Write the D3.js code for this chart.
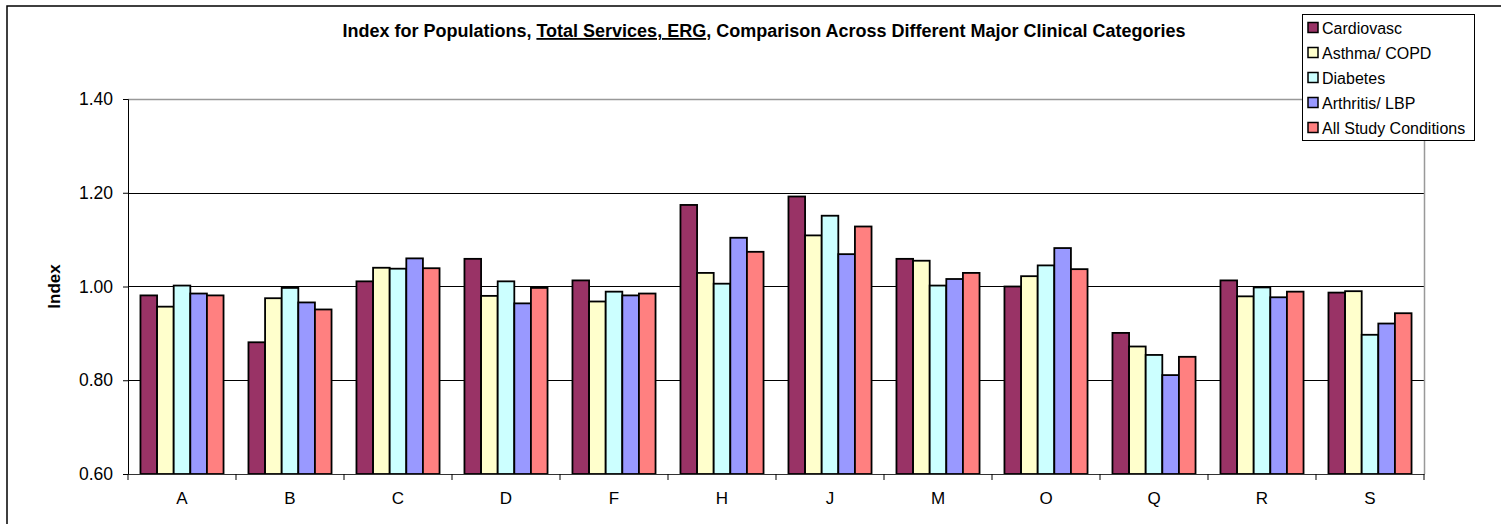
<!DOCTYPE html>
<html>
<head>
    <title>Index for Populations</title>
    <script src='https://d3js.org/d3.v7.min.js' charset='utf-8'></script>
    <style type="text/css">
        body { margin: 0; background: #fff; }
        svg { display: block; font-family: "Liberation Sans", Arial, sans-serif; }
    </style>
</head>
<body>
    <svg class='chart'></svg>

    <script type='text/javascript'>
    var categories = ['A', 'B', 'C', 'D', 'F', 'H', 'J', 'M', 'O', 'Q', 'R', 'S'];
    var seriesNames = ['Cardiovasc', 'Asthma/ COPD', 'Diabetes', 'Arthritis/ LBP', 'All Study Conditions'];
    var cardiovasc = [0.981, 0.881, 1.011, 1.059, 1.013, 1.174, 1.192, 1.059, 1.000, 0.901, 1.013, 0.987];
    var asthma     = [0.957, 0.975, 1.040, 0.980, 0.968, 1.029, 1.109, 1.055, 1.022, 0.872, 0.979, 0.990];
    var diabetes   = [1.002, 0.997, 1.038, 1.011, 0.989, 1.006, 1.151, 1.002, 1.045, 0.854, 0.998, 0.897];
    var arthritis  = [0.985, 0.966, 1.060, 0.964, 0.981, 1.104, 1.069, 1.016, 1.082, 0.811, 0.977, 0.921];
    var allStudy   = [0.981, 0.951, 1.039, 0.997, 0.985, 1.074, 1.128, 1.029, 1.037, 0.850, 0.989, 0.943];
    var yTicks = [0.60, 0.80, 1.00, 1.20, 1.40];
    var colors = ['#993366', '#FFFFCC', '#CCFFFF', '#9999FF', '#FF8080'];

    var width = 1501;
    var height = 524;
    var plotLeft = 128, plotRight = 1424, plotTop = 99, plotBottom = 474;

    var allSeries = [cardiovasc, asthma, diabetes, arthritis, allStudy];

    var svg = d3.select('.chart')
        .attr('width', width)
        .attr('height', height);

    // outer chart border (runs off the page on the right and bottom)
    svg.append('rect')
        .attr('x', 7).attr('y', 6)
        .attr('width', 1700).attr('height', 700)
        .attr('fill', 'none')
        .attr('stroke', '#000')
        .attr('stroke-width', 1.5);

    var x0 = d3.scaleBand().domain(categories).range([plotLeft, plotRight]);
    var x1 = d3.scaleBand().domain(d3.range(seriesNames.length))
        .range([0, x0.bandwidth()]).paddingInner(0).paddingOuter(0.75);
    var y = d3.scaleLinear().domain([0.6, 1.4]).range([plotBottom, plotTop]);

    // gridlines
    svg.append('g').selectAll('line')
        .data(yTicks.slice(1))
        .enter().append('line')
        .attr('x1', plotLeft).attr('x2', plotRight)
        .attr('y1', function (d) { return Math.round(y(d)) + 0.5; })
        .attr('y2', function (d) { return Math.round(y(d)) + 0.5; })
        .attr('stroke', function (d) { return d === 1.4 ? '#999' : '#000'; })
        .attr('stroke-width', function (d) { return d === 1.4 ? 1.5 : 1; });

    // right border of plot area
    svg.append('line')
        .attr('x1', plotRight + 0.5).attr('x2', plotRight + 0.5)
        .attr('y1', plotTop).attr('y2', plotBottom)
        .attr('stroke', '#999').attr('stroke-width', 1.5);

    // bars
    var groups = svg.append('g').selectAll('g')
        .data(categories)
        .enter().append('g')
        .attr('transform', function (d) { return 'translate(' + x0(d) + ',0)'; });

    groups.selectAll('rect')
        .data(function (d, i) { return allSeries.map(function (s, k) { return { k: k, v: s[i] }; }); })
        .enter().append('rect')
        .attr('x', function (d) { return x1(d.k); })
        .attr('width', x1.bandwidth())
        .attr('y', function (d) { return y(d.v); })
        .attr('height', function (d) { return plotBottom - y(d.v); })
        .attr('fill', function (d) { return colors[d.k]; })
        .attr('stroke', '#000')
        .attr('stroke-width', 1.8);

    // y axis
    var yAxis = svg.append('g')
        .attr('transform', 'translate(' + plotLeft + ',0)')
        .call(d3.axisLeft(y).tickValues(yTicks).tickFormat(d3.format('.2f')).tickSize(5).tickPadding(10));
    yAxis.select('.domain').attr('stroke', '#000');
    yAxis.selectAll('text').attr('font-size', 17.5).attr('font-family', '"Liberation Sans", Arial, sans-serif').attr('fill', '#000');

    // x axis
    var xAxis = svg.append('g')
        .attr('transform', 'translate(0,' + plotBottom + ')')
        .call(d3.axisBottom(x0).tickSize(0).tickPadding(18));
    xAxis.select('.domain').attr('stroke', '#333');
    xAxis.selectAll('text').attr('font-size', 17).attr('font-family', '"Liberation Sans", Arial, sans-serif').attr('fill', '#000');
    xAxis.selectAll('.sep')
        .data(categories.concat(['end']))
        .enter().append('line')
        .attr('class', 'sep')
        .attr('x1', function (d, i) { return plotLeft + i * x0.step(); })
        .attr('x2', function (d, i) { return plotLeft + i * x0.step(); })
        .attr('y1', 0).attr('y2', 6)
        .attr('stroke', '#000');

    // y label
    svg.append('text')
        .attr('transform', 'translate(60,' + y(1.0) + ') rotate(-90)')
        .attr('text-anchor', 'middle')
        .attr('font-size', 17)
        .attr('font-weight', 'bold')
        .text('Index');

    // title
    var title = svg.append('text')
        .attr('x', 764).attr('y', 37)
        .attr('text-anchor', 'middle')
        .attr('font-size', 18)
        .attr('font-weight', 'bold');
    title.append('tspan').text('Index for Populations, ');
    title.append('tspan').attr('text-decoration', 'underline').text('Total Services, ERG');
    title.append('tspan').text(', Comparison Across Different Major Clinical Categories');

    // legend
    var legend = svg.append('g');
    legend.append('rect')
        .attr('x', 1302.5).attr('y', 14.5)
        .attr('width', 172).attr('height', 126)
        .attr('fill', '#fff')
        .attr('stroke', '#000');
    var items = legend.selectAll('.item')
        .data(seriesNames)
        .enter().append('g')
        .attr('class', 'item')
        .attr('transform', function (d, i) { return 'translate(1308,' + (28 + i * 25) + ')'; });
    items.append('rect')
        .attr('x', 0).attr('y', -5.5)
        .attr('width', 10).attr('height', 10)
        .attr('fill', function (d, i) { return colors[i]; })
        .attr('stroke', '#000')
        .attr('stroke-width', 1.5);
    items.append('text')
        .attr('x', 14).attr('y', 0)
        .attr('dy', '0.35em')
        .attr('font-size', 16)
        .text(function (d) { return d; });
    </script>
</body>
</html>
